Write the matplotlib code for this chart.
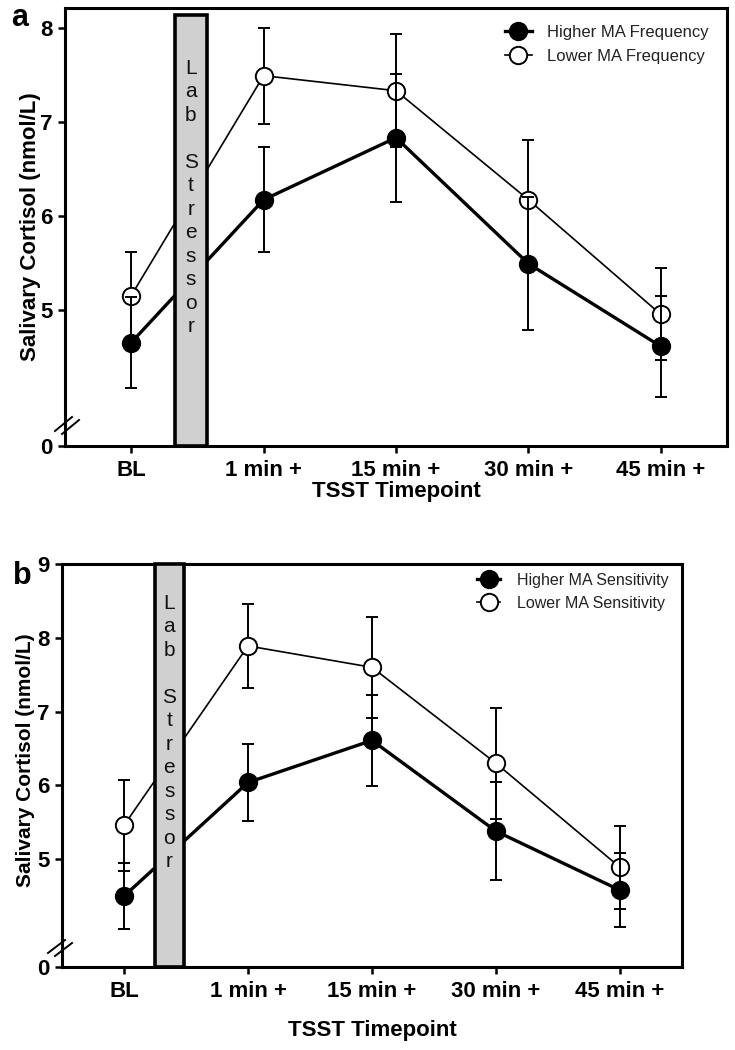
import matplotlib
matplotlib.use('Agg')
import matplotlib.pyplot as plt
from matplotlib.patches import Rectangle
from matplotlib.lines import Line2D
import matplotlib.transforms as mtransforms

plt.rcParams['font.family'] = ['Liberation Sans', 'DejaVu Sans']

# ---------------- data ----------------
timepoints = ['BL', '1 min +', '15 min +', '30 min +', '45 min +']

freq_high_mean = [4.65, 6.17, 6.83, 5.49, 4.61]
freq_high_se = [0.48, 0.56, 0.68, 0.71, 0.54]
freq_low_mean = [5.15, 7.49, 7.33, 6.17, 4.95]
freq_low_se = [0.46, 0.51, 0.60, 0.64, 0.49]

sens_high_mean = [4.50, 6.04, 6.61, 5.38, 4.58]
sens_high_se = [0.45, 0.52, 0.62, 0.66, 0.50]
sens_low_mean = [5.46, 7.89, 7.60, 6.30, 4.89]
sens_low_se = [0.62, 0.57, 0.68, 0.75, 0.56]

yticks_a = [5, 6, 7, 8]
yticks_b = [5, 6, 7, 8, 9]

legend_a = ['Higher MA Frequency', 'Lower MA Frequency']
legend_b = ['Higher MA Sensitivity', 'Lower MA Sensitivity']

stressor_text = 'L\na\nb\n\nS\nt\nr\ne\ns\ns\no\nr'

W, H = 735, 1050
fig = plt.figure(figsize=(W / 100, H / 100), dpi=100)


def fig_rect(l, t, r, b):
    return [l / W, 1 - b / H, (r - l) / W, (b - t) / H]


def px(x, y):
    return (x / W, 1 - y / H)


def draw_panel(ax, hi_m, hi_se, lo_m, lo_se, ylim, yticks, bar_x, bar_w, bar_top,
               labels, leg_anchor, leg_fs, leg_hl, leg_htp, leg_ls,
               ylabel_x, ylabel_y, ylabel_fs, xlabel_y, letters_top, breaks):
    x = list(range(len(timepoints)))
    c_lo = ax.errorbar(x, lo_m, yerr=lo_se, fmt='-o', color='black', mfc='white',
                       mec='black', mew=1.4, ms=12.5, lw=1.2, elinewidth=1.4,
                       capsize=4.5, capthick=1.4, zorder=3)
    c_hi = ax.errorbar(x, hi_m, yerr=hi_se, fmt='-o', color='black', mfc='black',
                       mec='black', mew=1.4, ms=12.5, lw=2.4, elinewidth=1.4,
                       capsize=4.5, capthick=1.4, zorder=4)
    ax.set_xlim(-0.5, len(timepoints) - 0.5)
    ax.set_ylim(*ylim)

    # Lab stressor bar
    ax.add_patch(Rectangle((bar_x, ylim[0]), bar_w, bar_top - ylim[0],
                           facecolor='#d0d0d0', edgecolor='black', lw=2.6,
                           zorder=6, clip_on=False))
    trans = mtransforms.blended_transform_factory(ax.transData, ax.transAxes)
    ax.text(bar_x + bar_w / 2, letters_top, stressor_text, transform=trans,
            ha='center', va='top', fontsize=15, linespacing=1.3,
            multialignment='center', color='#111111', zorder=7)

    # ticks
    ax.set_xticks(x)
    ax.set_xticklabels(timepoints, fontsize=16, fontweight='bold')
    ax.set_yticks([ylim[0]] + yticks)
    ax.set_yticklabels(['0'] + [str(v) for v in yticks], fontsize=16,
                       fontweight='bold')
    ax.tick_params(direction='out', length=5, width=1.8, pad=4)
    ax.tick_params(axis='x', pad=5)
    for sp in ax.spines.values():
        sp.set_linewidth(2.2)

    ax.set_ylabel('Salivary Cortisol (nmol/L)', fontsize=ylabel_fs,
                  fontweight='bold')
    ax.yaxis.set_label_coords(ylabel_x, ylabel_y)
    ax.set_xlabel('TSST Timepoint', fontsize=16, fontweight='bold')
    ax.xaxis.set_label_coords(0.5, xlabel_y)

    # axis break marks
    for (x0, y0, x1, y1) in breaks:
        fig.add_artist(Line2D([x0 / W, x1 / W], [1 - y0 / H, 1 - y1 / H],
                              transform=fig.transFigure, color='black', lw=1.4))

    ax.legend([c_hi.lines[0], c_lo.lines[0]], labels, loc='upper left',
              bbox_to_anchor=leg_anchor, bbox_transform=fig.transFigure,
              frameon=False, fontsize=leg_fs, handlelength=leg_hl,
              handletextpad=leg_htp, labelspacing=leg_ls, borderpad=0,
              borderaxespad=0, labelcolor='#222222')


ax_a = fig.add_axes(fig_rect(65, 8, 727, 446))
draw_panel(ax_a, freq_high_mean, freq_high_se, freq_low_mean, freq_low_se,
           ylim=(3.55, 8.21), yticks=yticks_a, bar_x=0.33, bar_w=0.24,
           bar_top=8.14, labels=legend_a, leg_anchor=px(505, 25),
           leg_fs=12, leg_hl=1.6, leg_htp=0.9, leg_ls=0.55,
           ylabel_x=-0.036, ylabel_y=0.5, ylabel_fs=16, xlabel_y=-0.08,
           letters_top=0.884,
           breaks=[(55, 431, 72, 417), (62, 434, 79, 420)])

ax_b = fig.add_axes(fig_rect(62, 564, 682, 967))
draw_panel(ax_b, sens_high_mean, sens_high_se, sens_low_mean, sens_low_se,
           ylim=(3.54, 9.0), yticks=yticks_b, bar_x=0.25, bar_w=0.23,
           bar_top=9.0, labels=legend_b, leg_anchor=px(477, 573),
           leg_fs=11.5, leg_hl=1.45, leg_htp=1.05, leg_ls=0.5,
           ylabel_x=-0.044, ylabel_y=0.514, ylabel_fs=15, xlabel_y=-0.132,
           letters_top=0.926,
           breaks=[(48, 953, 65, 940), (55, 956, 72, 943)])

fig.text(*px(20, 18), 'a', fontsize=22, fontweight='bold', ha='center',
         va='center')
fig.text(*px(22, 576), 'b', fontsize=22, fontweight='bold', ha='center',
         va='center')

fig.savefig('out.png', dpi=100)
